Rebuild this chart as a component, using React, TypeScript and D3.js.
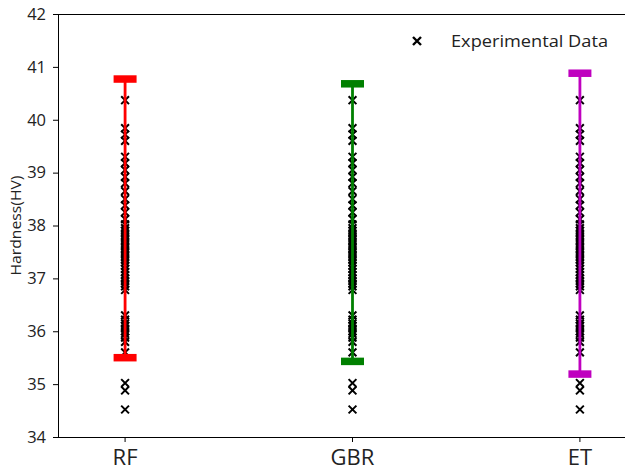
import React from "react";
import * as d3 from "d3";

const categories = ["RF", "GBR", "ET"];
const barColors = ["#ff0000", "#008000", "#bf00bf"];
const upperValues = [40.77, 40.68, 40.88];
const lowerValues = [35.5, 35.43, 35.19];
const experimental = [
  40.37, 39.84, 39.72, 39.6, 39.3, 39.18, 39.05, 38.92, 38.8, 38.65, 38.5,
  38.38, 38.25, 38.12, 38.02, 37.95, 37.9, 37.85, 37.8, 37.75, 37.7, 37.65,
  37.6, 37.55, 37.5, 37.45, 37.4, 37.35, 37.3, 37.24, 37.18, 37.12, 37.06,
  37.0, 36.95, 36.9, 36.85, 36.78, 36.3, 36.22, 36.15, 36.1, 36.05, 36.0,
  35.95, 35.88, 35.8, 35.6, 35.02, 34.88, 34.52,
];
const yTicks = [34, 35, 36, 37, 38, 39, 40, 41, 42];

const W = 625;
const H = 471;
const left = 58;
const top = 14;
const bottom = 437;
const right = 647;
const font = "'Open Sans', 'Noto Sans', sans-serif";

function Cross({ cx, cy, r, sw }: { cx: number; cy: number; r: number; sw: number }) {
  return (
    <path
      d={`M${cx - r},${cy - r}L${cx + r},${cy + r}M${cx - r},${cy + r}L${cx + r},${cy - r}`}
      stroke="#000"
      strokeWidth={sw}
      fill="none"
    />
  );
}

export default function App() {
  const x = d3.scaleLinear().domain([-0.295, 2.295]).range([left, right]);
  const y = d3.scaleLinear().domain([34, 42]).range([bottom, top]);
  const capHalf = 11.5;

  return (
    <svg
      width={W}
      height={H}
      style={{ position: "absolute", left: 0, top: 0, background: "#fff" }}
      fontFamily={font}
    >
      <rect x={0} y={0} width={W} height={H} fill="#fff" />
      {categories.map((c, i) =>
        experimental.map((v, j) => (
          <Cross key={c + j} cx={x(i)} cy={y(v)} r={3.9} sw={2} />
        ))
      )}
      {categories.map((c, i) => (
        <g key={c}>
          <line
            x1={x(i)}
            x2={x(i)}
            y1={y(upperValues[i])}
            y2={y(lowerValues[i])}
            stroke={barColors[i]}
            strokeWidth={2.8}
          />
          {[upperValues[i], lowerValues[i]].map((v, k) => (
            <line
              key={k}
              x1={x(i) - capHalf}
              x2={x(i) + capHalf}
              y1={y(v)}
              y2={y(v)}
              stroke={barColors[i]}
              strokeWidth={7.5}
            />
          ))}
        </g>
      ))}
      <line x1={left + 0.5} x2={left + 0.5} y1={top} y2={bottom} stroke="#000" strokeWidth={1} />
      <line x1={left} x2={right} y1={top + 0.5} y2={top + 0.5} stroke="#000" strokeWidth={1} />
      <line x1={left} x2={right} y1={bottom + 0.5} y2={bottom + 0.5} stroke="#000" strokeWidth={1} />
      {yTicks.map((t) => (
        <g key={t}>
          <line x1={left - 5} x2={left} y1={y(t) + 0.5} y2={y(t) + 0.5} stroke="#000" strokeWidth={1} />
          <text x={left - 12} y={y(t)} dy="0.35em" textAnchor="end" fontSize={16.5} fill="#222">
            {t}
          </text>
        </g>
      ))}
      {categories.map((c, i) => (
        <g key={c}>
          <line x1={x(i)} x2={x(i)} y1={bottom} y2={bottom + 5} stroke="#000" strokeWidth={1} />
          <text x={x(i)} y={465} textAnchor="middle" fontSize={22} fill="#222">
            {c}
          </text>
        </g>
      ))}
      <text
        transform={`translate(21,${(top + bottom) / 2}) rotate(-90)`}
        textAnchor="middle"
        fontSize={14}
        fill="#222"
        textLength={100}
        lengthAdjust="spacingAndGlyphs"
      >
        Hardness(HV)
      </text>
      <Cross cx={417} cy={41} r={4} sw={2.4} />
      <text x={451} y={47} fontSize={16.5} fill="#222" textLength={157} lengthAdjust="spacingAndGlyphs">
        Experimental Data
      </text>
    </svg>
  );
}
